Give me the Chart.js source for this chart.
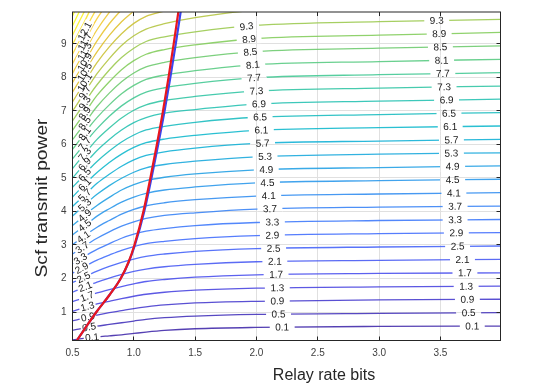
<!DOCTYPE html>
<html><head><meta charset="utf-8">
<script src="https://cdn.jsdelivr.net/npm/chart.js@4.4.1/dist/chart.umd.min.js"></script>
<style>html,body{margin:0;padding:0;background:#fff;}#wrap{width:554px;height:387px;}</style>
</head><body><div id="wrap"><canvas id="c" width="554" height="387"></canvas></div>
<script>
// ---------- data ----------
const xs = [0.5,0.55,0.6,0.65,0.7,0.8,0.9,1.0,1.1,1.25,1.5,2.0,3.0,4.0];
const levels = [0.1,0.5,0.9,1.3,1.7,2.1,2.5,2.9,3.3,3.7,4.1,4.5,4.9,5.3,5.7,6.1,6.5,6.9,7.3,7.7,8.1,8.5,8.9,9.3,9.7,10.1,10.5,10.9,11.3,11.7,12.1,12.5,12.9,13.3,13.7];
const contourY = [
[0.17,0.19,0.22,0.24,0.26,0.29,0.32,0.36,0.40,0.45,0.50,0.54,0.57,0.58],
[0.46,0.49,0.53,0.56,0.58,0.63,0.68,0.73,0.78,0.83,0.88,0.93,0.96,0.98],
[0.74,0.78,0.83,0.87,0.91,0.98,1.04,1.10,1.15,1.21,1.27,1.32,1.36,1.38],
[1.02,1.08,1.14,1.19,1.24,1.32,1.40,1.47,1.53,1.59,1.65,1.71,1.75,1.77],
[1.31,1.37,1.44,1.51,1.57,1.67,1.76,1.84,1.91,1.97,2.04,2.11,2.15,2.17],
[1.59,1.67,1.75,1.82,1.89,2.01,2.12,2.21,2.28,2.35,2.42,2.50,2.54,2.57],
[1.88,1.96,2.05,2.14,2.22,2.36,2.48,2.58,2.66,2.73,2.81,2.89,2.94,2.97],
[2.16,2.26,2.36,2.46,2.55,2.70,2.84,2.95,3.04,3.11,3.19,3.28,3.34,3.37],
[2.44,2.55,2.66,2.77,2.87,3.04,3.20,3.32,3.41,3.49,3.58,3.67,3.73,3.76],
[2.73,2.85,2.97,3.09,3.20,3.39,3.56,3.69,3.79,3.88,3.96,4.07,4.13,4.16],
[3.01,3.14,3.27,3.41,3.53,3.73,3.92,4.06,4.17,4.26,4.35,4.46,4.52,4.56],
[3.30,3.44,3.58,3.72,3.86,4.08,4.28,4.43,4.54,4.64,4.73,4.85,4.92,4.96],
[3.58,3.73,3.88,4.04,4.18,4.42,4.64,4.80,4.92,5.02,5.12,5.24,5.31,5.36],
[3.86,4.03,4.19,4.36,4.51,4.77,4.99,5.17,5.30,5.40,5.50,5.63,5.71,5.75],
[4.15,4.32,4.49,4.67,4.84,5.11,5.35,5.54,5.67,5.78,5.89,6.03,6.10,6.15],
[4.43,4.62,4.80,4.99,5.16,5.46,5.71,5.91,6.05,6.16,6.27,6.42,6.50,6.55],
[4.72,4.91,5.10,5.31,5.49,5.80,6.07,6.28,6.43,6.54,6.66,6.81,6.89,6.95],
[5.00,5.21,5.41,5.62,5.82,6.15,6.43,6.65,6.80,6.93,7.04,7.20,7.29,7.35],
[5.28,5.50,5.71,5.94,6.15,6.49,6.79,7.02,7.18,7.31,7.43,7.59,7.68,7.74],
[5.57,5.79,6.02,6.26,6.47,6.84,7.15,7.39,7.56,7.69,7.82,7.99,8.08,8.14],
[5.85,6.09,6.32,6.58,6.80,7.18,7.51,7.76,7.94,8.07,8.20,8.38,8.47,8.54],
[6.14,6.38,6.63,6.89,7.13,7.53,7.87,8.13,8.31,8.45,8.59,8.77,8.87,8.94],
[6.42,6.68,6.93,7.21,7.46,7.87,8.23,8.50,8.69,8.83,8.97,9.16,9.26,9.34],
[6.70,6.97,7.24,7.53,7.78,8.22,8.59,8.87,9.07,9.21,9.36,9.55,9.66,9.73],
[6.99,7.27,7.55,7.84,8.11,8.56,8.95,9.24,9.44,9.60,9.78,10.00,10.06],
[7.27,7.56,7.85,8.16,8.44,8.91,9.30,9.61,9.82,9.98],
[7.56,7.86,8.16,8.48,8.76,9.25,9.66,9.98],
[7.84,8.15,8.46,8.79,9.09,9.60,10.02],
[8.12,8.45,8.77,9.11,9.42,9.94,10.38],
[8.41,8.74,9.07,9.43,9.75,10.29],
[8.69,9.04,9.38,9.74,10.07],
[8.98,9.33,9.68,10.06],
[9.26,9.63,9.99],
[9.54,9.92,10.29],
[9.83,10.22]
];
// red curve (and the blue curve lying just under it)
const curveY = [0.15,0.5,1.0,1.5,2.0,2.5,3.0,4.0,5.0,6.0,7.0,8.0,9.0,10.0];
const redX   = [0.535,0.60,0.695,0.80,0.893,0.958,1.005,1.078,1.135,1.188,1.238,1.283,1.325,1.365];
const blueX  = [0.535,0.60,0.695,0.80,0.893,0.960,1.009,1.085,1.144,1.199,1.251,1.298,1.342,1.384];

// contour label placement (x positions along each labelled contour)
const leftLabelX  = [0.66,0.635,0.625,0.622,0.618,0.605,0.59,0.575,0.565,0.58,0.59,0.6,0.6,0.6,0.6,0.6,0.6,0.6,0.6,0.6,0.6,0.6,0.6,0.6,0.6,0.6,0.6,0.6,0.6,0.6,0.6];
const midLabelX   = [2.21,2.18,2.17,2.17,2.16,2.15,2.14,2.13,2.13,2.11,2.10,2.09,2.08,2.07,2.05,2.04,2.03,2.02,2.00,1.98,1.97,1.95,1.94,1.92];
const rightLabelX = [3.76,3.73,3.72,3.71,3.70,3.68,3.64,3.63,3.62,3.62,3.61,3.60,3.60,3.59,3.59,3.58,3.57,3.55,3.53,3.52,3.51,3.50,3.49,3.47];

// ---------- styling ----------
const PARULA = [[62,38,168],[71,71,235],[62,111,255],[39,150,235],[8,181,208],[49,198,159],[129,204,89],[220,189,41],[252,207,48],[249,251,21]];
function parula(t){
  t = Math.max(0, Math.min(1, t));
  const n = PARULA.length - 1, f = t * n, i = Math.min(n - 1, Math.floor(f)), u = f - i;
  const a = PARULA[i], b = PARULA[i + 1];
  const c = a.map((v, j) => Math.round(v + (b[j] - v) * u));
  return `rgba(${c[0]},${c[1]},${c[2]},0.88)`;
}
const GRID = '#e0e0e0';
const FONT = '"Liberation Sans", Arial, Helvetica, sans-serif';
const COLOR_SPAN = 13.2;

const vmin = levels[0];
const datasets = levels.map((lv, k) => ({
  label: lv.toFixed(1),
  data: contourY[k].map((y, i) => ({x: xs[i], y: y})),
  borderColor: parula((lv - vmin) / COLOR_SPAN),
  borderWidth: 1.3,
  pointRadius: 0,
  cubicInterpolationMode: 'monotone',
  fill: false,
  order: 2
}));
const BLUE_INDEX = datasets.length;
datasets.push({
  label: 'blue', data: blueX.map((x, i) => ({x: x, y: curveY[i]})),
  borderColor: '#3b45ee', borderWidth: 2.2, pointRadius: 0,
  cubicInterpolationMode: 'monotone', fill: false, order: 1
});
datasets.push({
  label: 'red', data: redX.map((x, i) => ({x: x, y: curveY[i]})),
  borderColor: '#e8161e', borderWidth: 2.2, pointRadius: 0,
  cubicInterpolationMode: 'monotone', fill: false, order: 0
});

function yAt(data, xv){
  for (let i = 0; i < data.length - 1; i++){
    const a = data[i], b = data[i + 1];
    if (xv >= a.x && xv <= b.x){ const t = (xv - a.x) / (b.x - a.x); return a.y + t * (b.y - a.y); }
  }
  return null;
}

const specs = [];
leftLabelX.forEach((x, k) => specs.push({k, x, pad: 3, h: 9}));
midLabelX.forEach((x, k) => specs.push({k, x, pad: 11, h: 10}));
rightLabelX.forEach((x, k) => specs.push({k, x, pad: 11, h: 10}));

const labelPlugin = {
  id: 'clabels',
  beforeDatasetDraw(chart, args){
    if (args.index !== BLUE_INDEX) return;
    const ctx = chart.ctx, xsc = chart.scales.x, ysc = chart.scales.y, ca = chart.chartArea;
    ctx.save();
    ctx.font = '10px ' + FONT;
    const items = [];
    specs.forEach(s => {
      const d = chart.data.datasets[s.k].data;
      const y = yAt(d, s.x), y1 = yAt(d, s.x - 0.01), y2 = yAt(d, s.x + 0.01);
      if (y == null || y1 == null || y2 == null) return;
      const px = xsc.getPixelForValue(s.x), py = ysc.getPixelForValue(y);
      const ang = Math.atan2(ysc.getPixelForValue(y2) - ysc.getPixelForValue(y1),
                             xsc.getPixelForValue(s.x + 0.01) - xsc.getPixelForValue(s.x - 0.01));
      const txt = levels[s.k].toFixed(1);
      const w = ctx.measureText(txt).width + s.pad;
      items.push({px, py, ang, w, h: s.h, txt});
    });
    ctx.beginPath();
    ctx.rect(ca.left, ca.top, ca.right - ca.left, ca.bottom - ca.top);
    ctx.clip();
    ctx.beginPath();
    items.forEach(it => {
      const c = Math.cos(it.ang), s = Math.sin(it.ang), hw = it.w / 2, hh = it.h / 2;
      const pts = [[-hw,-hh],[hw,-hh],[hw,hh],[-hw,hh]].map(([u, v]) => [it.px + u * c - v * s, it.py + u * s + v * c]);
      ctx.moveTo(pts[0][0], pts[0][1]);
      for (let i = 1; i < 4; i++) ctx.lineTo(pts[i][0], pts[i][1]);
      ctx.closePath();
    });
    ctx.fillStyle = '#fff';
    ctx.fill();
    ctx.clip();
    ctx.strokeStyle = GRID; ctx.lineWidth = 1;
    ctx.beginPath();
    xsc.ticks.forEach(t => { const p = Math.round(xsc.getPixelForValue(t.value) + 0.5) - 0.5; ctx.moveTo(p, ca.top); ctx.lineTo(p, ca.bottom); });
    ysc.ticks.forEach(t => { const p = Math.round(ysc.getPixelForValue(t.value) + 0.5) - 0.5; ctx.moveTo(ca.left, p); ctx.lineTo(ca.right, p); });
    ctx.stroke();
    ctx.restore();
    ctx.save();
    ctx.font = '10px ' + FONT;
    ctx.fillStyle = '#1a1a1a';
    ctx.textAlign = 'center'; ctx.textBaseline = 'middle';
    items.forEach(it => {
      ctx.save(); ctx.translate(it.px, it.py); ctx.rotate(it.ang); ctx.fillText(it.txt, 0, 0.5); ctx.restore();
    });
    ctx.restore();
  }
};

const framePlugin = {
  id: 'frame',
  afterDraw(chart){
    const ctx = chart.ctx, ca = chart.chartArea, xsc = chart.scales.x, ysc = chart.scales.y;
    ctx.save();
    ctx.strokeStyle = '#262626'; ctx.lineWidth = 1;
    ctx.strokeRect(ca.left, ca.top, ca.right - ca.left, ca.bottom - ca.top);
    ctx.beginPath();
    const L = 4;
    xsc.ticks.forEach(t => { const p = Math.round(xsc.getPixelForValue(t.value) + 0.5) - 0.5;
      ctx.moveTo(p, ca.bottom); ctx.lineTo(p, ca.bottom - L); ctx.moveTo(p, ca.top); ctx.lineTo(p, ca.top + L); });
    ysc.ticks.forEach(t => { const p = Math.round(ysc.getPixelForValue(t.value) + 0.5) - 0.5;
      ctx.moveTo(ca.left, p); ctx.lineTo(ca.left + L, p); ctx.moveTo(ca.right, p); ctx.lineTo(ca.right - L, p); });
    ctx.stroke();
    // axis titles
    ctx.fillStyle = '#262626';
    ctx.font = '16px ' + FONT;
    ctx.textAlign = 'center'; ctx.textBaseline = 'middle';
    ctx.fillText('Relay rate bits', 324, 376);
    ctx.translate(43, 198); ctx.rotate(-Math.PI / 2); ctx.scale(1.2, 1);
    ctx.fillText('Scf transmit power', 0, 0);
    ctx.restore();
  }
};

new Chart(document.getElementById('c'), {
  type: 'line',
  data: {datasets},
  options: {
    responsive: false, animation: false, devicePixelRatio: 1,
    layout: {padding: {left: 0, right: 53.5, top: 3.5, bottom: 0}},
    plugins: {legend: {display: false}, tooltip: {enabled: false}},
    elements: {point: {radius: 0}},
    scales: {
      x: {
        type: 'linear', min: 0.5, max: 3.99,
        ticks: {stepSize: 0.5, includeBounds: false, autoSkip: false, maxRotation: 0, padding: 7,
                color: '#404040', font: {family: FONT, size: 10}},
        grid: {color: GRID, drawTicks: false}, border: {display: false},
        afterFit(s){ s.height = 46.5; }
      },
      y: {
        type: 'linear', min: 0.15, max: 9.95,
        ticks: {stepSize: 1, includeBounds: false, autoSkip: false, padding: 6,
                color: '#404040', font: {family: FONT, size: 10}},
        grid: {color: GRID, drawTicks: false}, border: {display: false},
        afterFit(s){ s.width = 72.5; }
      }
    }
  },
  plugins: [labelPlugin, framePlugin]
});
</script>
</body></html>
